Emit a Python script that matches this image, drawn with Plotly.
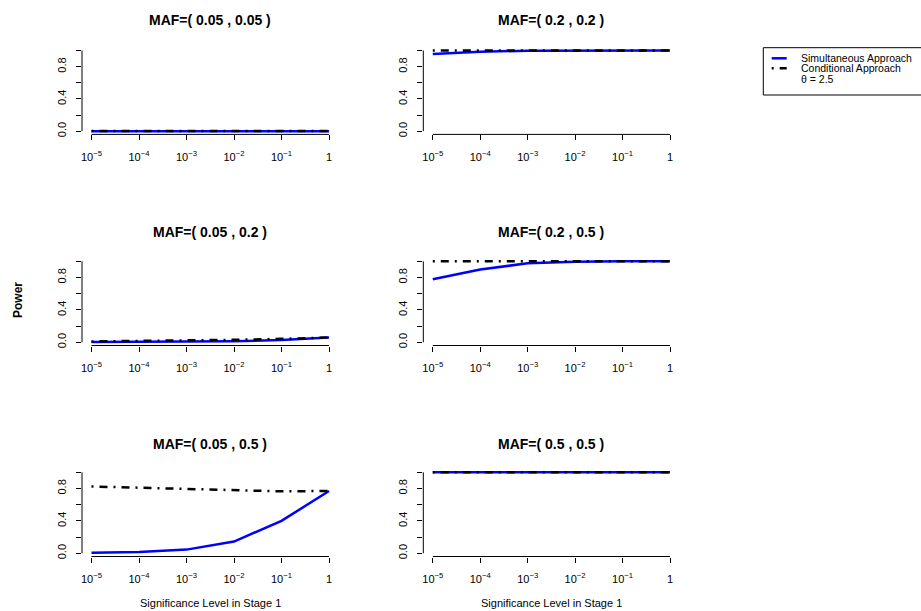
import plotly.graph_objects as go

# ---------------- data ----------------
alpha = [1e-5, 1e-4, 1e-3, 1e-2, 1e-1, 1.0]
x_tick_vals = [1e-5, 1e-4, 1e-3, 1e-2, 1e-1, 1.0]
x_tick_text = ["10<sup>\u22125</sup>", "10<sup>\u22124</sup>", "10<sup>\u22123</sup>",
               "10<sup>\u22122</sup>", "10<sup>\u22121</sup>", "1"]
y_tick_vals = [0.0, 0.4, 0.8]
y_tick_text = ["0.0", "0.4", "0.8"]
y_minor_vals = [0.2, 0.6, 1.0]

titles = ["MAF=( 0.05 , 0.05 )", "MAF=( 0.2 , 0.2 )",
          "MAF=( 0.05 , 0.2 )", "MAF=( 0.2 , 0.5 )",
          "MAF=( 0.05 , 0.5 )", "MAF=( 0.5 , 0.5 )"]

sim_005_005 = [0.0, 0.0, 0.0, 0.0, 0.0, 0.0]
cond_005_005 = [0.002, 0.002, 0.002, 0.002, 0.002, 0.002]
sim_02_02 = [0.957, 0.985, 0.998, 1.0, 1.0, 1.0]
cond_02_02 = [1.0, 1.0, 1.0, 1.0, 1.0, 1.0]
sim_005_02 = [0.002, 0.003, 0.006, 0.012, 0.028, 0.058]
cond_005_02 = [0.010, 0.014, 0.020, 0.030, 0.042, 0.058]
sim_02_05 = [0.778, 0.900, 0.975, 0.995, 1.0, 1.0]
cond_02_05 = [1.0, 1.0, 1.0, 1.0, 1.0, 1.0]
sim_005_05 = [0.005, 0.015, 0.045, 0.145, 0.400, 0.770]
cond_005_05 = [0.825, 0.810, 0.795, 0.778, 0.765, 0.770]
sim_05_05 = [1.0, 1.0, 1.0, 1.0, 1.0, 1.0]
cond_05_05 = [1.0, 1.0, 1.0, 1.0, 1.0, 1.0]

sim_series = [sim_005_005, sim_02_02, sim_005_02, sim_02_05, sim_005_05, sim_05_05]
cond_series = [cond_005_005, cond_02_02, cond_005_02, cond_02_05, cond_005_05, cond_05_05]

legend_labels = ["Simultaneous Approach", "Conditional Approach", "\u03b8 = 2.5"]
x_title = "Significance Level in Stage 1"
y_title = "Power"

# ---------------- layout geometry ----------------
W, H = 921, 611
FONT = "Liberation Sans, Arial, sans-serif"
BLUE = "#0000FF"
DOTDASH = "2px,6px,8px,6px"

col_px = [(82.0, 338.5), (423.3, 679.5)]
row_px = [(47.3, 134.4), (258.1, 345.5), (469.1, 556.5)]
title_px = [20.0, 231.5, 444.0]

def px_x(v):
    return v / W

def px_y(v):
    return 1 - v / H

fig = go.Figure()
shapes = []
annotations = []

for i in range(6):
    r, c = divmod(i, 2)
    n = i + 1
    xa = "x" if n == 1 else f"x{n}"
    ya = "y" if n == 1 else f"y{n}"
    fig.add_trace(go.Scatter(x=alpha, y=sim_series[i], mode="lines",
                             line=dict(color=BLUE, width=2.5),
                             xaxis=xa, yaxis=ya, showlegend=False, hoverinfo="skip"))
    fig.add_trace(go.Scatter(x=alpha, y=cond_series[i], mode="lines",
                             line=dict(color="black", width=2.5, dash=DOTDASH),
                             xaxis=xa, yaxis=ya, showlegend=False, hoverinfo="skip"))
    x0, x1 = col_px[c]
    yt, yb = row_px[r]
    xkey = "xaxis" if n == 1 else f"xaxis{n}"
    ykey = "yaxis" if n == 1 else f"yaxis{n}"
    fig.update_layout(**{
        xkey: dict(domain=[px_x(x0), px_x(x1)], anchor=ya, type="log",
                   range=[-5.2, 0.2], tickvals=x_tick_vals, ticktext=x_tick_text,
                   ticks="outside", ticklen=5, tickwidth=1, tickcolor="black",
                   ticklabelstandoff=7,
                   showline=False, showgrid=False, zeroline=False,
                   tickfont=dict(family=FONT, size=11, color="black"),
                   automargin=False, fixedrange=True),
        ykey: dict(domain=[px_y(yb), px_y(yt)], anchor=xa,
                   range=[-0.04, 1.04], tickvals=y_tick_vals, ticktext=y_tick_text,
                   ticks="outside", ticklen=5, tickwidth=1, tickcolor="black",
                   minor=dict(tickvals=y_minor_vals, ticks="outside", ticklen=5,
                              tickwidth=1, tickcolor="black", showgrid=False),
                   tickangle=-90, ticklabelstandoff=6,
                   showline=False, showgrid=False, zeroline=False,
                   tickfont=dict(family=FONT, size=11, color="black"),
                   automargin=False, fixedrange=True),
    })
    # R-style axis lines spanning only the tick range
    shapes.append(dict(type="line", xref=f"{xa} domain", yref=f"{ya} domain",
                       x0=0.2 / 5.4, x1=5.2 / 5.4, y0=0, y1=0,
                       line=dict(color="black", width=1)))
    shapes.append(dict(type="line", xref=f"{xa} domain", yref=f"{ya} domain",
                       x0=0, x1=0, y0=0.04 / 1.08, y1=1.04 / 1.08,
                       line=dict(color="black", width=1)))
    # panel title
    annotations.append(dict(text=f"<b>{titles[i]}</b>", xref=f"{xa} domain", yref="paper",
                            x=0.5, y=px_y(title_px[r]), xanchor="center", yanchor="middle",
                            showarrow=False, font=dict(family=FONT, size=14, color="black")))
    if r == 2:
        annotations.append(dict(text=x_title, xref=f"{xa} domain", yref="paper",
                                x=0.5, y=px_y(603), xanchor="center", yanchor="middle",
                                showarrow=False, font=dict(family=FONT, size=11, color="black")))

# y title
annotations.append(dict(text=f"<b>{y_title}</b>", xref="paper", yref="paper",
                        x=px_x(18), y=px_y(300), textangle=-90,
                        xanchor="center", yanchor="middle", showarrow=False,
                        font=dict(family=FONT, size=12, color="black")))

# legend box (manual, R-style)
shapes.append(dict(type="rect", xref="paper", yref="paper",
                   x0=px_x(763.3), x1=px_x(930), y0=px_y(95), y1=px_y(47.7),
                   line=dict(color="black", width=1), fillcolor="white", layer="below"))
leg_rows = [58.3, 68.3, 78.5]
shapes.append(dict(type="line", xref="paper", yref="paper",
                   x0=px_x(771.7), x1=px_x(786.7), y0=px_y(leg_rows[0]), y1=px_y(leg_rows[0]),
                   line=dict(color=BLUE, width=2.5)))
shapes.append(dict(type="line", xref="paper", yref="paper",
                   x0=px_x(771.7), x1=px_x(786.7), y0=px_y(leg_rows[1]), y1=px_y(leg_rows[1]),
                   line=dict(color="black", width=2.5, dash=DOTDASH)))
for k, lab in enumerate(legend_labels):
    annotations.append(dict(text=lab, xref="paper", yref="paper",
                            x=px_x(799.3), y=px_y(leg_rows[k]), xanchor="left", yanchor="middle",
                            showarrow=False, font=dict(family=FONT, size=10.5, color="black")))

fig.update_layout(width=W, height=H, margin=dict(l=0, r=0, t=0, b=0, autoexpand=False),
                  paper_bgcolor="white", plot_bgcolor="white",
                  shapes=shapes, annotations=annotations, showlegend=False)

fig.write_html("out.html",
               config={"displayModeBar": False, "staticPlot": True},
               post_script="document.body.style.margin='0';document.body.style.padding='0';"
                           "document.body.style.overflow='hidden';")
